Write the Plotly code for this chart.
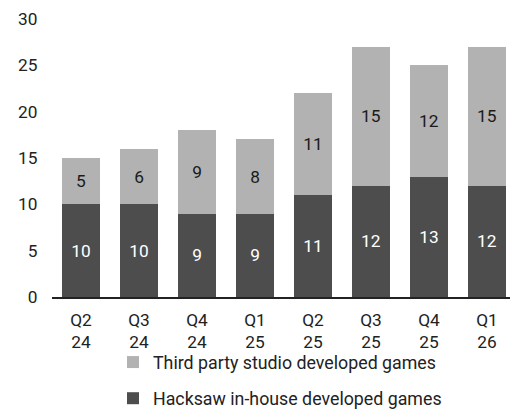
import plotly.graph_objects as go

categories = ["Q2<br>24", "Q3<br>24", "Q4<br>24", "Q1<br>25", "Q2<br>25", "Q3<br>25", "Q4<br>25", "Q1<br>26"]
inhouse = [10, 10, 9, 9, 11, 12, 13, 12]
third_party = [5, 6, 9, 8, 11, 15, 12, 15]
y_ticks = [0, 5, 10, 15, 20, 25, 30]

dark = "#4d4d4d"
light = "#b2b2b2"
font = "Roboto, Arial, sans-serif"
fs = 17.3

fig = go.Figure()
fig.add_trace(go.Bar(
    x=categories, y=inhouse, name="Hacksaw in-house developed games",
    marker=dict(color=dark, line=dict(width=0)),
    text=inhouse, textposition="inside", insidetextanchor="middle",
    textfont=dict(color="white", size=fs, family=font),
    legendgroup="a", legendrank=2,
))
fig.add_trace(go.Bar(
    x=categories, y=third_party, name="Third party studio developed games",
    marker=dict(color=light, line=dict(width=0)),
    text=third_party, textposition="inside", insidetextanchor="middle",
    textfont=dict(color="#1a1a1a", size=fs, family=font),
    legendgroup="b", legendrank=1,
))

plot_top, plot_bottom, plot_left = 19, 297, 52
plot_h = plot_bottom - plot_top
plot_w = 510 - plot_left

fig.update_layout(
    width=510, height=410,
    barmode="stack", bargap=0.33,
    margin=dict(l=plot_left, r=0, t=plot_top, b=410 - plot_bottom, autoexpand=False),
    paper_bgcolor="white", plot_bgcolor="white",
    font=dict(family=font, size=fs, color="#222222"),
    showlegend=True,
    legend=dict(
        orientation="v", x=(113 - plot_left) / plot_w, xanchor="left",
        y=-(344 - plot_bottom) / plot_h, yanchor="top",
        traceorder="grouped", tracegroupgap=10,
        bgcolor="rgba(0,0,0,0)",
        font=dict(size=17.8, color="#222222"),
        itemwidth=30,
    ),
    xaxis=dict(
        range=[-0.5, 7.397], showline=True, linecolor="#222222", linewidth=1.5,
        ticks="outside", ticklen=6, tickcolor="rgba(0,0,0,0)",
        showgrid=False, tickfont=dict(size=fs),
    ),
    yaxis=dict(
        range=[0, 30], tickvals=y_ticks, showline=False, showgrid=False,
        zeroline=False, ticks="outside", ticklen=10, tickcolor="rgba(0,0,0,0)",
        tickfont=dict(size=fs),
    ),
)

fig.write_html("out.html")
